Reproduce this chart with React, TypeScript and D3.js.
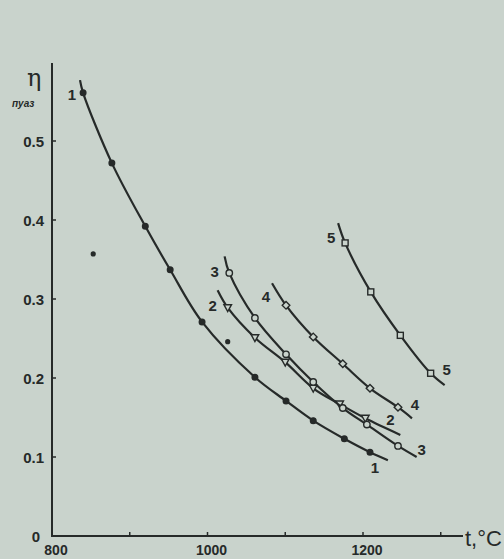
import React from "react";
import * as d3 from "d3";

// ---- data ----
// curve 1 : filled circles
const c1LineT = [836, 1232];
const c1LineEta = [0.577, 0.096];
const c1T = [840, 877, 920, 952, 993, 1061, 1101, 1136, 1176, 1209];
const c1Eta = [0.561, 0.472, 0.392, 0.337, 0.271, 0.201, 0.171, 0.146, 0.123, 0.106];
// curve 2 : open triangles
const c2LineT = [1013, 1248];
const c2LineEta = [0.311, 0.128];
const c2T = [1026, 1061, 1100, 1136, 1170, 1203];
const c2Eta = [0.289, 0.251, 0.22, 0.187, 0.167, 0.149];
// curve 3 : open circles
const c3LineT = [1022, 1269];
const c3LineEta = [0.354, 0.1];
const c3T = [1028, 1061, 1101, 1136, 1174, 1205, 1245];
const c3Eta = [0.333, 0.276, 0.23, 0.195, 0.162, 0.141, 0.114];
// curve 4 : open diamonds
const c4LineT = [1083, 1263];
const c4LineEta = [0.32, 0.149];
const c4T = [1101, 1136, 1174, 1209, 1245];
const c4Eta = [0.292, 0.252, 0.218, 0.187, 0.163];
// curve 5 : open squares
const c5LineT = [1168, 1305];
const c5LineEta = [0.396, 0.191];
const c5T = [1177, 1210, 1248, 1287];
const c5Eta = [0.371, 0.309, 0.254, 0.206];
// isolated points
const strayT = [853, 1026];
const strayEta = [0.357, 0.246];

const yTicks = [0.1, 0.2, 0.3, 0.4, 0.5];
const xTicks = [900, 1000, 1100, 1200, 1300];
const xLabels = [800, 1000, 1200];
const curveNames = ["1", "2", "3", "4", "5"];

const W = 504;
const H = 559;
const BG = "#c9d3cc";
const INK = "#262a29";

const x = d3.scaleLinear().domain([800, 1300]).range([52, 440.75]);
const y = d3.scaleLinear().domain([0, 0.5]).range([536, 141]);

type Pt = [number, number];
const zip = (t: number[], e: number[]): Pt[] => t.map((v, i) => [v, e[i]]);

const series = [
  { lt: c1LineT, le: c1LineEta, t: c1T, e: c1Eta, m: "dot", s: [-8, 20], en: [-13, 13] },
  { lt: c2LineT, le: c2LineEta, t: c2T, e: c2Eta, m: "tri", s: [-5, 21], en: [-10, -10] },
  { lt: c3LineT, le: c3LineEta, t: c3T, e: c3Eta, m: "circ", s: [-10, 21], en: [5, -2] },
  { lt: c4LineT, le: c4LineEta, t: c4T, e: c4Eta, m: "dia", s: [-6, 19], en: [3, -8] },
  { lt: c5LineT, le: c5LineEta, t: c5T, e: c5Eta, m: "sq", s: [-7, 20], en: [2, -10] },
];

const line = d3
  .line<Pt>()
  .x((d) => x(d[0]))
  .y((d) => y(d[1]))
  .curve(d3.curveCatmullRom.alpha(0.5));

function Marker({ kind, cx, cy }: { kind: string; cx: number; cy: number }) {
  const st = { fill: kind === "dot" ? INK : BG, stroke: INK, strokeWidth: 1.4 };
  if (kind === "dot") return <circle cx={cx} cy={cy} r={2.8} {...st} />;
  if (kind === "circ") return <circle cx={cx} cy={cy} r={3.2} {...st} />;
  if (kind === "sq") return <rect x={cx - 3} y={cy - 3} width={6} height={6} {...st} />;
  if (kind === "dia")
    return <path d={`M${cx},${cy - 3.8}L${cx + 3.8},${cy}L${cx},${cy + 3.8}L${cx - 3.8},${cy}Z`} {...st} />;
  return <path d={`M${cx - 3.8},${cy - 3}L${cx + 3.8},${cy - 3}L${cx},${cy + 3.8}Z`} {...st} />;
}

export default function App() {
  const font = "'Liberation Sans', Arial, sans-serif";
  return (
    <svg
      width={W}
      height={H}
      style={{ position: "absolute", left: 0, top: 0, display: "block" }}
      fontFamily={font}
    >
      <rect width={W} height={H} fill={BG} />
      {/* axes */}
      <line x1={52} y1={63} x2={52} y2={537} stroke={INK} strokeWidth={2} />
      <line x1={51} y1={536} x2={463} y2={536} stroke={INK} strokeWidth={2} />
      {yTicks.map((v) => (
        <g key={v}>
          <line x1={52} x2={56} y1={y(v)} y2={y(v)} stroke={INK} strokeWidth={1.5} />
          <text x={44} y={y(v) + 6} textAnchor="end" fontSize={15} fontWeight="bold" fill={INK}>
            {v.toFixed(1)}
          </text>
        </g>
      ))}
      <text x={40} y={542} textAnchor="end" fontSize={15} fontWeight="bold" fill={INK}>
        0
      </text>
      {xTicks.map((v) => (
        <line key={v} x1={x(v)} x2={x(v)} y1={536} y2={532} stroke={INK} strokeWidth={1.5} />
      ))}
      {xLabels.map((v) => (
        <text key={v} x={x(v) + 4} y={555} textAnchor="middle" fontSize={14} fontWeight="bold" fill={INK}>
          {v}
        </text>
      ))}
      <text x={27} y={86} fontSize={24} fill={INK} fontFamily="'DejaVu Serif', serif">
        η
      </text>
      <text x={12} y={107} fontSize={10} fontStyle="italic" fontWeight="bold" fill={INK}>
        пуаз
      </text>
      <text x={465} y={546} fontSize={22} fill={INK}>
        t,°C
      </text>
      {/* curves */}
      {series.map((s, i) => {
        const pts: Pt[] = [
          [s.lt[0], s.le[0]],
          ...zip(s.t, s.e),
          [s.lt[1], s.le[1]],
        ];
        return (
          <g key={i}>
            <path d={line(pts) || ""} fill="none" stroke={INK} strokeWidth={2.2} />
            {zip(s.t, s.e).map((p, j) => (
              <Marker key={j} kind={s.m} cx={x(p[0])} cy={y(p[1])} />
            ))}
            <text
              x={x(s.lt[0]) + s.s[0]}
              y={y(s.le[0]) + s.s[1]}
              textAnchor="middle"
              fontSize={15}
              fontWeight="bold"
              fill={INK}
            >
              {curveNames[i]}
            </text>
            <text
              x={x(s.lt[1]) + s.en[0]}
              y={y(s.le[1]) + s.en[1]}
              textAnchor="middle"
              fontSize={15}
              fontWeight="bold"
              fill={INK}
            >
              {curveNames[i]}
            </text>
          </g>
        );
      })}
      {zip(strayT, strayEta).map((p, j) => (
        <circle key={j} cx={x(p[0])} cy={y(p[1])} r={2.6} fill={INK} />
      ))}
    </svg>
  );
}
